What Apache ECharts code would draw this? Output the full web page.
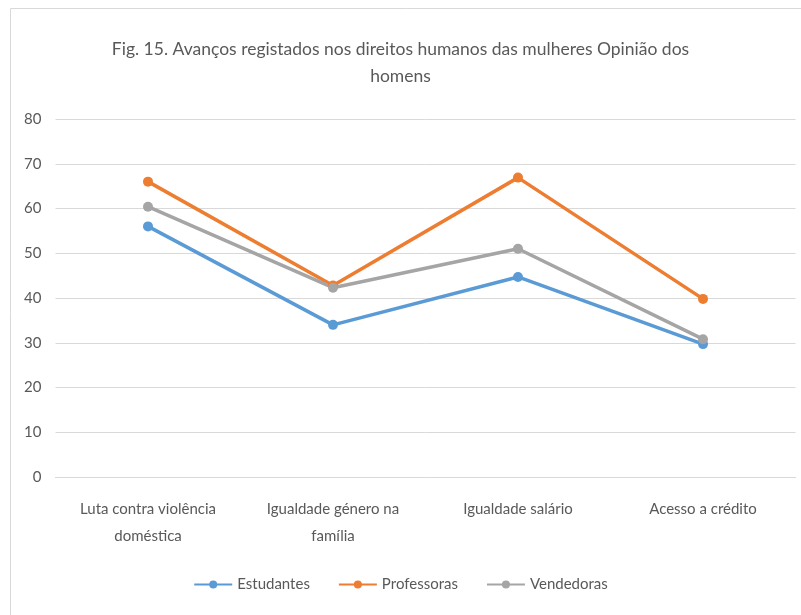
<!DOCTYPE html>
<html>
<head>
<meta charset="utf-8">
<script src="https://cdn.jsdelivr.net/npm/echarts@6/dist/echarts.min.js"></script>
<style>
  html, body { margin: 0; padding: 0; background: #fff; }
  #chart { width: 801px; height: 615px; }
</style>
</head>
<body>
<div id="chart"></div>
<script>
const categories = ['Luta contra violência\ndoméstica', 'Igualdade género na\nfamília', 'Igualdade salário', 'Acesso a crédito'];
const estudantes = [56, 34, 44.7, 29.7];
const professoras = [66, 42.8, 66.9, 39.8];
const vendedoras = [60.4, 42.3, 51, 30.8];
const yTicks = { min: 0, max: 80, interval: 10 };

const font = 'Lato, "Open Sans", sans-serif';
const textColor = '#595959';

function line(name, data, color) {
    return {
        name: name,
        type: 'line',
        data: data,
        symbol: 'circle',
        symbolSize: 10,
        lineStyle: { width: 3.5, color: color },
        itemStyle: { color: color },
        emphasis: { disabled: true }
    };
}

const chart = echarts.init(document.getElementById('chart'));
chart.setOption({
    animation: false,
    color: ['#5B9BD5', '#ED7D31', '#A5A5A5'],
    textStyle: { fontFamily: font },
    graphic: [{
        type: 'rect',
        shape: { x: 10.5, y: 8.5, width: 800, height: 620 },
        style: { fill: 'none', stroke: '#d9d9d9', lineWidth: 1 },
        silent: true
    }],
    title: {
        text: 'Fig. 15. Avanços registados nos direitos humanos das mulheres Opinião dos\nhomens',
        left: 'center',
        top: 31,
        textStyle: { fontFamily: font, fontSize: 17.5, fontWeight: 'normal', color: textColor, lineHeight: 27 }
    },
    legend: {
        bottom: 18,
        left: 'center',
        itemWidth: 38,
        itemHeight: 10,
        itemGap: 28,
        textStyle: { fontFamily: font, fontSize: 15, color: textColor },
        data: ['Estudantes', 'Professoras', 'Vendedoras']
    },
    grid: { left: 55.5, right: 5.5, top: 119, bottom: 138, containLabel: false },
    xAxis: {
        type: 'category',
        data: categories,
        boundaryGap: true,
        axisLine: { lineStyle: { color: '#d9d9d9' } },
        axisTick: { show: false },
        axisLabel: { fontFamily: font, fontSize: 15, color: textColor, margin: 19, lineHeight: 27 }
    },
    yAxis: {
        type: 'value',
        min: yTicks.min,
        max: yTicks.max,
        interval: yTicks.interval,
        axisLine: { show: false },
        axisTick: { show: false },
        splitLine: { lineStyle: { color: '#d9d9d9' } },
        axisLabel: { fontFamily: font, fontSize: 15, color: textColor, margin: 14 }
    },
    series: [
        line('Estudantes', estudantes, '#5B9BD5'),
        line('Professoras', professoras, '#ED7D31'),
        line('Vendedoras', vendedoras, '#A5A5A5')
    ]
});
</script>
</body>
</html>
